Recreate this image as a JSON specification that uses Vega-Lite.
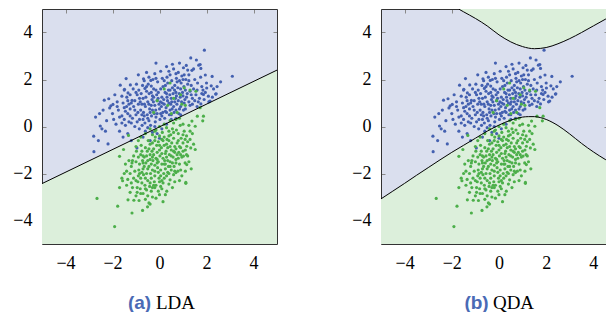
{
"$schema": "https://vega.github.io/schema/vega-lite/v6.json",
"padding": {"left": 12, "top": 8, "right": 0, "bottom": 0},
"spacing": 73,
"config": {"view": {"stroke": null, "fill": "#dadfee"}, "axis": {"grid": false, "labelFont": "Liberation Serif", "labelFontSize": 18, "labelColor": "#000", "tickColor": "#888", "tickSize": -4, "domainColor": "#333", "labelPadding": 14, "zindex": 1, "labelFlush": false, "labelOverlap": false}},
"datasets": {
"lda": [{"x":-5,"y":-2.43},{"x":5,"y":2.40}],
"qda": [
{"k":"lo","x":-5,"y":-3.08},{"k":"lo","x":-4.5,"y":-2.75},{"k":"lo","x":-4,"y":-2.42},{"k":"lo","x":-3.5,"y":-2.08},{"k":"lo","x":-3,"y":-1.75},{"k":"lo","x":-2.5,"y":-1.42},{"k":"lo","x":-2,"y":-1.1},{"k":"lo","x":-1.5,"y":-0.8},{"k":"lo","x":-1,"y":-0.5},{"k":"lo","x":-0.5,"y":-0.2},{"k":"lo","x":0,"y":0.06},{"k":"lo","x":0.5,"y":0.27},{"k":"lo","x":1,"y":0.4},{"k":"lo","x":1.25,"y":0.42},{"k":"lo","x":1.5,"y":0.42},{"k":"lo","x":1.75,"y":0.38},{"k":"lo","x":2,"y":0.3},{"k":"lo","x":2.5,"y":0.04},{"k":"lo","x":3,"y":-0.32},{"k":"lo","x":3.5,"y":-0.72},{"k":"lo","x":4,"y":-1.08},{"k":"lo","x":4.5,"y":-1.4},{"k":"lo","x":5,"y":-1.68},
{"k":"up","x":-1.71,"y":5.0},{"k":"up","x":-1.5,"y":4.88},{"k":"up","x":-1,"y":4.6},{"k":"up","x":-0.5,"y":4.28},{"k":"up","x":0,"y":3.9},{"k":"up","x":0.5,"y":3.6},{"k":"up","x":1,"y":3.4},{"k":"up","x":1.5,"y":3.31},{"k":"up","x":2,"y":3.36},{"k":"up","x":2.5,"y":3.52},{"k":"up","x":3,"y":3.74},{"k":"up","x":3.5,"y":4.0},{"k":"up","x":4,"y":4.28},{"k":"up","x":4.5,"y":4.56},{"k":"up","x":5,"y":4.82}
],
"blue": [
{"x":1.91,"y":3.25},{"x":3.10,"y":2.14},{"x":-0.15,"y":2.70},{"x":1.33,"y":2.92},{"x":1.57,"y":2.83},{"x":1.73,"y":2.64},{"x":1.14,"y":2.60},{"x":2.24,"y":2.13},{"x":2.39,"y":1.38},{"x":2.20,"y":1.73},{"x":2.10,"y":1.05},{"x":-1.42,"y":2.04},{"x":-1.67,"y":1.76},{"x":-1.50,"y":1.55},{"x":-2.79,"y":-1.07},{"x":-2.80,"y":-0.41},{"x":-2.72,"y":0.40},{"x":-2.52,"y":0.02},{"x":-2.45,"y":-0.10},{"x":-2.35,"y":1.12},{"x":-2.16,"y":1.18},{"x":-2.19,"y":-0.74},{"x":-2.07,"y":0.88},{"x":-1.24,"y":1.77},{"x":-0.68,"y":2.03},{"x":-0.37,"y":1.96},{"x":-1.98,"y":0.94},{"x":-1.80,"y":0.85},{"x":-2.12,"y":0.79},{"x":-1.49,"y":1.58},{"x":-1.34,"y":1.43},{"x":-1.60,"y":1.29},{"x":-1.39,"y":1.25},{"x":-1.17,"y":1.11},{"x":1.02,"y":2.50},{"x":1.67,"y":2.61},{"x":1.76,"y":2.47},{"x":1.38,"y":2.39},{"x":1.95,"y":2.19},{"x":2.01,"y":1.64},{"x":2.41,"y":1.39},{"x":1.87,"y":1.36},{"x":2.08,"y":1.29},{"x":2.15,"y":1.08},{"x":1.76,"y":0.96},{"x":-0.96,"y":-0.91},{"x":-0.55,"y":2.30},{"x":-0.9,"y":2.2},{"x":0.3,"y":2.55},{"x":0.6,"y":2.45},{"x":0.45,"y":2.2},{"x":0.8,"y":2.3},{"x":0.95,"y":2.15},{"x":1.25,"y":2.2},{"x":1.5,"y":2.0},{"x":1.62,"y":1.85},{"x":1.8,"y":1.7},{"x":2.3,"y":1.6},{"x":1.95,"y":1.45},{"x":2.25,"y":1.25},{"x":-1.95,"y":0.3},{"x":-2.0,"y":0.55},{"x":-1.85,"y":0.1},{"x":-1.7,"y":-0.2},{"x":-1.6,"y":0.45},{"x":-1.75,"y":0.7},{"x":-1.55,"y":-0.45},{"x":-1.35,"y":-0.3},{"x":-1.2,"y":-0.6},{"x":-1.45,"y":0.05},{"x":-2.3,"y":-0.2},{"x":-2.25,"y":0.25},{"x":-2.55,"y":0.55},{"x":-1.9,"y":1.35},{"x":-1.8,"y":1.05},
{"x":-0.9,"y":0.95},{"x":-0.8,"y":0.7},{"x":-0.7,"y":1.2},{"x":-0.6,"y":0.85},{"x":-0.5,"y":1.05},{"x":-0.4,"y":0.6},{"x":-0.3,"y":1.3},{"x":-0.2,"y":0.9},{"x":-0.1,"y":1.1},{"x":0.0,"y":0.75},{"x":0.1,"y":1.25},{"x":0.2,"y":0.95},{"x":0.3,"y":1.4},{"x":0.4,"y":1.0},{"x":0.5,"y":1.2},{"x":0.6,"y":0.85},{"x":0.7,"y":1.45},{"x":0.8,"y":1.1},{"x":0.9,"y":1.6},{"x":1.0,"y":1.3},
{"x":-1.0,"y":0.5},{"x":-0.95,"y":1.35},{"x":-0.85,"y":0.3},{"x":-0.75,"y":0.95},{"x":-0.65,"y":0.45},{"x":-0.55,"y":1.5},{"x":-0.45,"y":0.25},{"x":-0.35,"y":0.9},{"x":-0.25,"y":1.6},{"x":-0.15,"y":0.4},{"x":-0.05,"y":1.45},{"x":0.05,"y":0.55},{"x":0.15,"y":1.7},{"x":0.25,"y":0.65},{"x":0.35,"y":1.85},{"x":0.45,"y":0.7},{"x":0.55,"y":1.65},{"x":0.65,"y":1.05},{"x":0.75,"y":1.9},{"x":0.85,"y":0.75},
{"x":-1.1,"y":0.85},{"x":-1.05,"y":1.1},{"x":-1.15,"y":0.35},{"x":-1.25,"y":0.75},{"x":-1.3,"y":0.95},{"x":-1.2,"y":0.15},{"x":-1.35,"y":0.55},{"x":-1.4,"y":0.85},{"x":-1.05,"y":0.0},{"x":-0.95,"y":0.2},
{"x":1.05,"y":1.0},{"x":1.1,"y":1.55},{"x":1.15,"y":1.25},{"x":1.2,"y":1.8},{"x":1.25,"y":1.05},{"x":1.3,"y":1.5},{"x":1.35,"y":1.75},{"x":1.4,"y":1.2},{"x":1.45,"y":1.6},{"x":1.55,"y":1.35},
{"x":-0.88,"y":1.55},{"x":-0.72,"y":1.75},{"x":-0.62,"y":0.15},{"x":-0.48,"y":1.8},{"x":-0.38,"y":0.05},{"x":-0.28,"y":2.0},{"x":-0.18,"y":0.2},{"x":-0.08,"y":1.9},{"x":0.02,"y":0.3},{"x":0.12,"y":2.05},{"x":0.22,"y":0.35},{"x":0.32,"y":2.1},{"x":0.42,"y":0.5},{"x":0.52,"y":1.95},{"x":0.62,"y":0.6},{"x":0.72,"y":2.05},{"x":0.82,"y":0.55},{"x":0.92,"y":1.85},{"x":1.02,"y":0.7},{"x":1.12,"y":2.0},
{"x":-0.82,"y":1.05},{"x":-0.68,"y":0.6},{"x":-0.58,"y":1.25},{"x":-0.42,"y":0.75},{"x":-0.32,"y":1.15},{"x":-0.22,"y":0.55},{"x":-0.12,"y":1.35},{"x":-0.02,"y":0.95},{"x":0.08,"y":0.85},{"x":0.18,"y":1.15},{"x":0.28,"y":0.8},{"x":0.38,"y":1.55},{"x":0.48,"y":0.95},{"x":0.58,"y":1.4},{"x":0.68,"y":1.2},{"x":0.78,"y":1.65},{"x":0.88,"y":1.25},{"x":0.98,"y":1.45},{"x":1.08,"y":1.15},{"x":1.18,"y":1.4},
{"x":-0.92,"y":0.6},{"x":-0.78,"y":1.4},{"x":-0.64,"y":0.95},{"x":-0.52,"y":0.5},{"x":-0.44,"y":1.4},{"x":-0.34,"y":0.45},{"x":-0.26,"y":1.05},{"x":-0.16,"y":0.7},{"x":-0.06,"y":1.2},{"x":0.04,"y":1.05},{"x":0.14,"y":0.6},{"x":0.24,"y":1.45},{"x":0.34,"y":1.1},{"x":0.44,"y":1.35},{"x":0.54,"y":0.75},{"x":0.64,"y":1.55},{"x":0.74,"y":0.95},{"x":0.84,"y":1.4},{"x":0.94,"y":1.05},{"x":1.04,"y":1.7},
{"x":-1.5,"y":0.3},{"x":-1.45,"y":0.65},{"x":-1.55,"y":1.0},{"x":-1.6,"y":0.15},{"x":-1.3,"y":0.2},{"x":-1.25,"y":1.35},{"x":-1.12,"y":1.6},{"x":-0.98,"y":1.8},{"x":-0.86,"y":-0.1},{"x":-0.74,"y":0.05},
{"x":-0.6,"y":-0.2},{"x":-0.5,"y":-0.05},{"x":-0.3,"y":-0.25},{"x":-0.2,"y":0.0},{"x":-0.1,"y":-0.3},{"x":0.1,"y":-0.1},{"x":0.3,"y":0.1},{"x":0.5,"y":0.3},{"x":0.7,"y":0.35},{"x":0.9,"y":0.5},
{"x":1.3,"y":0.9},{"x":1.5,"y":1.1},{"x":1.6,"y":0.85},{"x":1.7,"y":1.2},{"x":1.85,"y":1.55},{"x":1.9,"y":1.15},{"x":2.0,"y":1.85},{"x":1.75,"y":2.1},{"x":1.45,"y":2.45},{"x":1.2,"y":2.4},
{"x":-0.65,"y":1.95},{"x":-0.45,"y":2.1},{"x":-0.2,"y":2.25},{"x":0.05,"y":2.35},{"x":0.2,"y":1.95},{"x":0.4,"y":2.35},{"x":0.55,"y":2.65},{"x":0.85,"y":2.7},{"x":0.7,"y":2.25},{"x":1.0,"y":2.0},
{"x":-1.0,"y":1.45},{"x":-1.2,"y":1.0},{"x":-0.7,"y":-0.45},{"x":-0.4,"y":-0.6},{"x":0.0,"y":-0.5},{"x":-2.6,"y":-0.6},{"x":-2.4,"y":0.7},{"x":2.6,"y":1.9},{"x":2.45,"y":1.7},{"x":-0.35,"y":1.72},
{"x":-0.3,"y":0.7},{"x":-0.1,"y":0.55},{"x":0.1,"y":0.45},{"x":0.3,"y":0.6},{"x":0.5,"y":0.5},{"x":0.7,"y":0.7},{"x":0.9,"y":0.85},{"x":1.1,"y":0.75},{"x":-0.5,"y":0.35},{"x":-0.7,"y":0.3},
{"x":-0.15,"y":1.55},{"x":0.05,"y":1.6},{"x":0.25,"y":1.75},{"x":0.45,"y":1.55},{"x":0.65,"y":1.75},{"x":0.85,"y":1.95},{"x":1.05,"y":2.2},{"x":1.25,"y":1.95},{"x":-0.35,"y":1.45},{"x":-0.55,"y":1.7},
{"x":-0.85,"y":1.2},{"x":-1.05,"y":0.7},{"x":-1.25,"y":0.45},{"x":-0.75,"y":0.5},{"x":-0.45,"y":0.95},{"x":-0.25,"y":1.25},{"x":0.12,"y":1.0},{"x":0.32,"y":1.25},{"x":0.52,"y":1.05},{"x":0.72,"y":1.3},
{"x":1.35,"y":1.35},{"x":1.6,"y":1.55},{"x":1.65,"y":1.05},{"x":1.4,"y":0.95},{"x":1.8,"y":1.4},{"x":-1.5,"y":0.8},{"x":-1.7,"y":0.4},{"x":-1.35,"y":1.1},{"x":-0.62,"y":1.62},{"x":-0.15,"y":2.05}
],
"green": [
{"x":-2.66,"y":-3.06},{"x":-1.91,"y":-4.26},{"x":-1.78,"y":-3.39},{"x":-1.17,"y":-3.68},{"x":-0.72,"y":-3.57},{"x":-0.51,"y":-3.42},{"x":-0.40,"y":-3.30},{"x":-1.70,"y":-2.60},{"x":-1.57,"y":-2.31},{"x":-1.34,"y":-3.12},{"x":-1.09,"y":-3.14},{"x":-0.87,"y":-3.15},{"x":0.31,"y":-2.75},{"x":0.70,"y":-1.96},{"x":1.16,"y":-1.62},{"x":1.12,"y":-2.42},{"x":0.45,"y":-2.27},{"x":1.87,"y":0.44},{"x":1.84,"y":0.24},{"x":1.61,"y":0.44},{"x":1.38,"y":0.23},{"x":1.52,"y":0.01},{"x":1.30,"y":-0.20},{"x":1.09,"y":-0.55},{"x":1.33,"y":-0.91},{"x":1.52,"y":-0.98},{"x":1.16,"y":-0.84},{"x":1.02,"y":-1.26},{"x":1.09,"y":-1.55},{"x":-1.70,"y":-1.27},{"x":-1.53,"y":-0.98},{"x":-1.32,"y":-0.38},{"x":-1.17,"y":-1.55},{"x":1.73,"y":0.80},{"x":1.12,"y":-2.38},{"x":-1.5,"y":-2.0},{"x":-1.4,"y":-2.5},{"x":-1.25,"y":-2.8},{"x":-1.0,"y":-2.95},{"x":-0.8,"y":-2.85},{"x":-0.6,"y":-3.1},{"x":-0.3,"y":-3.0},{"x":0.0,"y":-2.9},{"x":-0.2,"y":-2.6},{"x":0.15,"y":-3.2},
{"x":0.35,"y":0.9},{"x":0.6,"y":1.2},{"x":0.9,"y":1.35},{"x":0.2,"y":1.6},{"x":1.1,"y":0.9},{"x":0.75,"y":0.6},{"x":1.3,"y":1.55},{"x":0.5,"y":0.55},{"x":-0.1,"y":1.1},{"x":0.95,"y":0.95},{"x":0.45,"y":1.85},{"x":-0.25,"y":0.6},{"x":1.55,"y":1.5},{"x":1.05,"y":1.65},
{"x":-1.0,"y":-1.5},{"x":-0.9,"y":-2.1},{"x":-0.8,"y":-1.2},{"x":-0.7,"y":-1.8},{"x":-0.6,"y":-0.9},{"x":-0.5,"y":-2.3},{"x":-0.4,"y":-1.4},{"x":-0.3,"y":-0.7},{"x":-0.2,"y":-1.9},{"x":-0.1,"y":-1.1},{"x":0.0,"y":-0.4},{"x":0.1,"y":-1.6},{"x":0.2,"y":-0.8},{"x":0.3,"y":-1.3},{"x":0.4,"y":-0.2},{"x":0.5,"y":-1.0},{"x":0.6,"y":-0.5},{"x":0.7,"y":-1.4},{"x":0.8,"y":-0.3},{"x":0.9,"y":-0.9},
{"x":-1.1,"y":-2.2},{"x":-0.95,"y":-2.6},{"x":-0.85,"y":-1.6},{"x":-0.75,"y":-2.4},{"x":-0.65,"y":-1.3},{"x":-0.55,"y":-2.7},{"x":-0.45,"y":-1.7},{"x":-0.35,"y":-2.2},{"x":-0.25,"y":-1.2},{"x":-0.15,"y":-2.5},{"x":-0.05,"y":-1.5},{"x":0.05,"y":-2.1},{"x":0.15,"y":-0.6},{"x":0.25,"y":-1.8},{"x":0.35,"y":-0.9},{"x":0.45,"y":-1.5},{"x":0.55,"y":-0.1},{"x":0.65,"y":-1.1},{"x":0.75,"y":-0.7},{"x":0.85,"y":-1.6},
{"x":-0.98,"y":-1.05},{"x":-0.88,"y":-1.85},{"x":-0.78,"y":-0.8},{"x":-0.68,"y":-2.05},{"x":-0.58,"y":-1.55},{"x":-0.48,"y":-0.6},{"x":-0.38,"y":-2.0},{"x":-0.28,"y":-1.45},{"x":-0.18,"y":-0.45},{"x":-0.08,"y":-1.75},{"x":0.02,"y":-1.25},{"x":0.12,"y":-0.25},{"x":0.22,"y":-1.45},{"x":0.32,"y":-0.55},{"x":0.42,"y":-1.2},{"x":0.52,"y":-0.7},{"x":0.62,"y":-1.7},{"x":0.72,"y":-0.15},{"x":0.82,"y":-1.1},{"x":0.92,"y":-0.5},
{"x":-1.2,"y":-1.7},{"x":-1.25,"y":-2.0},{"x":-1.15,"y":-2.6},{"x":-1.05,"y":-1.9},{"x":-0.92,"y":-2.35},{"x":-0.82,"y":-2.65},{"x":-0.72,"y":-1.45},{"x":-0.62,"y":-2.5},{"x":-0.52,"y":-1.05},{"x":-0.42,"y":-2.55},{"x":-0.32,"y":-1.05},{"x":-0.22,"y":-2.35},{"x":-0.12,"y":-0.8},{"x":-0.02,"y":-2.2},{"x":0.08,"y":-0.9},{"x":0.18,"y":-2.0},{"x":0.28,"y":-1.05},{"x":0.38,"y":-1.7},{"x":0.48,"y":-0.35},{"x":0.58,"y":-1.3},
{"x":1.0,"y":-0.7},{"x":1.05,"y":-0.2},{"x":1.1,"y":-1.0},{"x":1.15,"y":-0.4},{"x":1.2,"y":-0.65},{"x":1.25,"y":0.05},{"x":1.0,"y":0.1},{"x":0.95,"y":-1.3},{"x":0.88,"y":0.05},{"x":0.78,"y":-1.9},
{"x":-0.6,"y":-0.3},{"x":-0.4,"y":-0.1},{"x":-0.2,"y":-0.2},{"x":0.0,"y":0.0},{"x":0.2,"y":0.1},{"x":0.3,"y":-0.05},{"x":0.45,"y":0.25},{"x":0.6,"y":0.15},{"x":0.7,"y":0.3},{"x":0.85,"y":0.35},
{"x":-0.9,"y":-0.6},{"x":-1.0,"y":-0.85},{"x":-0.8,"y":-0.45},{"x":-1.1,"y":-1.25},{"x":-1.3,"y":-1.45},{"x":-1.4,"y":-1.9},{"x":-1.35,"y":-2.25},{"x":-1.45,"y":-1.6},{"x":-1.6,"y":-2.2},{"x":-1.2,"y":-2.4},
{"x":-0.7,"y":-2.85},{"x":-0.5,"y":-2.95},{"x":-0.35,"y":-2.75},{"x":-0.15,"y":-3.05},{"x":0.05,"y":-2.55},{"x":0.15,"y":-2.4},{"x":-0.95,"y":-2.8},{"x":-0.45,"y":-3.25},{"x":-0.25,"y":-2.5},{"x":0.3,"y":-2.1},
{"x":0.5,"y":-1.85},{"x":0.6,"y":-2.05},{"x":0.7,"y":-1.55},{"x":0.8,"y":-1.35},{"x":0.9,"y":-1.85},{"x":1.0,"y":-1.05},{"x":0.4,"y":-2.45},{"x":0.55,"y":-2.6},{"x":0.25,"y":-2.9},{"x":-0.05,"y":-2.75},
{"x":-0.55,"y":-1.25},{"x":-0.35,"y":-1.6},{"x":-0.15,"y":-1.35},{"x":0.05,"y":-1.85},{"x":0.25,"y":-1.15},{"x":0.45,"y":-0.85},{"x":0.65,"y":-0.85},{"x":0.35,"y":-1.95},{"x":-0.45,"y":-0.95},{"x":-0.65,"y":-1.7},
{"x":-0.25,"y":-0.95},{"x":-0.05,"y":-0.65},{"x":0.15,"y":-1.35},{"x":0.35,"y":-1.45},{"x":0.55,"y":-1.55},{"x":-0.75,"y":-1.05},{"x":-0.85,"y":-2.0},{"x":-0.6,"y":-2.2},{"x":-0.3,"y":-1.85},{"x":0.1,"y":-2.3},
{"x":-0.1,"y":-1.55},{"x":0.0,"y":-1.0},{"x":0.2,"y":-1.6},{"x":0.4,"y":-0.6},{"x":0.6,"y":-1.05},{"x":-0.2,"y":-1.65},{"x":-0.4,"y":-1.2},{"x":-0.5,"y":-1.8},{"x":-0.7,"y":-1.25},{"x":0.75,"y":-1.2},
{"x":1.2,"y":-1.25},{"x":1.3,"y":-0.55},{"x":1.4,"y":-0.3},{"x":1.45,"y":-0.75},{"x":1.25,"y":-1.5},{"x":1.1,"y":-1.9},{"x":0.95,"y":-2.1},{"x":0.85,"y":-2.3},{"x":1.35,"y":-1.8},{"x":0.65,"y":-2.35},
{"x":-0.3,"y":-1.3},{"x":-0.1,"y":-1.4},{"x":0.1,"y":-1.15},{"x":0.3,"y":-0.75},{"x":0.5,"y":-1.25},{"x":-0.5,"y":-1.45},{"x":-0.7,"y":-1.55},{"x":-0.9,"y":-1.3},{"x":0.7,"y":-0.95},{"x":0.9,"y":-1.2},
{"x":-0.2,"y":-2.1},{"x":0.0,"y":-2.35},{"x":0.2,"y":-2.2},{"x":-0.4,"y":-2.4},{"x":-0.6,"y":-2.65},{"x":-0.8,"y":-2.2},{"x":0.4,"y":-2.0},{"x":-1.0,"y":-2.3},{"x":-0.3,"y":-2.6},{"x":0.1,"y":-2.65},
{"x":0.2,"y":-0.45},{"x":0.4,"y":-0.4},{"x":0.6,"y":-0.25},{"x":0.8,"y":-0.6},{"x":0.0,"y":-0.8},{"x":-0.2,"y":-0.6},{"x":-0.4,"y":-0.75},{"x":1.0,"y":-0.35},{"x":1.15,"y":-1.2},{"x":-0.3,"y":-0.35},
{"x":-0.05,"y":-1.95},{"x":0.25,"y":-1.6},{"x":0.45,"y":-1.7},{"x":-0.55,"y":-2.0},{"x":-0.75,"y":-1.95},{"x":-1.15,"y":-1.45},{"x":0.65,"y":-1.9},{"x":0.85,"y":-0.85},{"x":-0.15,"y":-0.15},{"x":0.1,"y":-0.55}
]
},
"hconcat": [
{
"width": 235, "height": 235,
"layer": [
{"data": {"name": "lda"}, "mark": {"type": "area", "color": "#dcefdb", "clip": true},
 "encoding": {
  "x": {"field": "x", "type": "quantitative", "scale": {"domain": [-5, 5], "nice": false, "zero": false},
        "axis": {"orient": "bottom", "values": [-4, -2, 0, 2, 4], "labelFont": "Liberation Serif", "labelFontSize": 18, "title": "LDA", "titleFont": "Liberation Serif", "titleFontSize": 19, "titleFontWeight": "normal", "titleColor": "#000", "titleX": 133, "titleY": 64, "titleAlign": "center", "titleBaseline": "alphabetic"}},
  "y": {"field": "y", "type": "quantitative", "scale": {"domain": [-5, 5], "nice": false, "zero": false},
        "axis": {"orient": "left", "values": [-4, -2, 0, 2, 4], "labelFont": "Liberation Serif", "labelFontSize": 18, "title": null}},
  "y2": {"datum": -5}}},
{"data": {"name": "blue"}, "mark": {"type": "circle", "color": "#4360b0", "opacity": 1, "size": 10},
 "encoding": {"x": {"field": "x", "type": "quantitative", "axis": null}, "y": {"field": "y", "type": "quantitative", "axis": null}}},
{"data": {"name": "green"}, "mark": {"type": "circle", "color": "#4caf4a", "opacity": 1, "size": 10},
 "encoding": {"x": {"field": "x", "type": "quantitative", "axis": null}, "y": {"field": "y", "type": "quantitative", "axis": null}}},
{"data": {"name": "lda"}, "mark": {"type": "line", "color": "#000", "strokeWidth": 1, "clip": true},
 "encoding": {
  "x": {"field": "x", "type": "quantitative", "axis": {"orient": "top", "labels": false, "values": [-4, -2, 0, 2, 4], "title": "(a)", "titleFont": "Liberation Sans", "titleFontSize": 19, "titleFontWeight": "bold", "titleColor": "#4a6ab5", "titleX": 97, "titleY": 299, "titleAlign": "center", "titleBaseline": "alphabetic"}},
  "y": {"field": "y", "type": "quantitative", "axis": {"orient": "right", "labels": false, "values": [-4, -2, 0, 2, 4], "title": null}}}}
],
"resolve": {"axis": {"x": "independent", "y": "independent"}}
},
{
"width": 227, "height": 235,
"layer": [
{"data": {"name": "qda"}, "transform": [{"filter": "datum.k == 'lo'"}], "mark": {"type": "area", "color": "#dcefdb", "clip": true, "interpolate": "monotone"},
 "encoding": {
  "x": {"field": "x", "type": "quantitative", "scale": {"domain": [-5, 4.62], "nice": false, "zero": false},
        "axis": {"orient": "bottom", "values": [-4, -2, 0, 2, 4], "labelFont": "Liberation Serif", "labelFontSize": 18, "title": "QDA", "titleFont": "Liberation Serif", "titleFontSize": 19, "titleFontWeight": "normal", "titleColor": "#000", "titleX": 132, "titleY": 64, "titleAlign": "center", "titleBaseline": "alphabetic"}},
  "y": {"field": "y", "type": "quantitative", "scale": {"domain": [-5, 5], "nice": false, "zero": false},
        "axis": {"orient": "left", "values": [-4, -2, 0, 2, 4], "labelFont": "Liberation Serif", "labelFontSize": 18, "title": null}},
  "y2": {"datum": -5}}},
{"data": {"name": "qda"}, "transform": [{"filter": "datum.k == 'up'"}], "mark": {"type": "area", "color": "#dcefdb", "clip": true, "interpolate": "monotone"},
 "encoding": {"x": {"field": "x", "type": "quantitative", "axis": null}, "y": {"field": "y", "type": "quantitative", "axis": null}, "y2": {"datum": 5}}},
{"data": {"name": "blue"}, "mark": {"type": "circle", "color": "#4360b0", "opacity": 1, "size": 10},
 "encoding": {"x": {"field": "x", "type": "quantitative", "axis": null}, "y": {"field": "y", "type": "quantitative", "axis": null}}},
{"data": {"name": "green"}, "mark": {"type": "circle", "color": "#4caf4a", "opacity": 1, "size": 10},
 "encoding": {"x": {"field": "x", "type": "quantitative", "axis": null}, "y": {"field": "y", "type": "quantitative", "axis": null}}},
{"data": {"name": "qda"}, "mark": {"type": "line", "color": "#000", "strokeWidth": 1, "clip": true, "interpolate": "monotone"},
 "encoding": {
  "detail": {"field": "k"},
  "x": {"field": "x", "type": "quantitative", "axis": {"orient": "top", "labels": false, "values": [-4, -2, 0, 2, 4], "title": "(b)", "titleFont": "Liberation Sans", "titleFontSize": 19, "titleFontWeight": "bold", "titleColor": "#4a6ab5", "titleX": 95, "titleY": 299, "titleAlign": "center", "titleBaseline": "alphabetic"}},
  "y": {"field": "y", "type": "quantitative", "axis": {"orient": "right", "labels": false, "domain": false, "values": [-4, -2, 0, 2, 4], "title": null}}}}
],
"resolve": {"axis": {"x": "independent", "y": "independent"}}
}
]
}
